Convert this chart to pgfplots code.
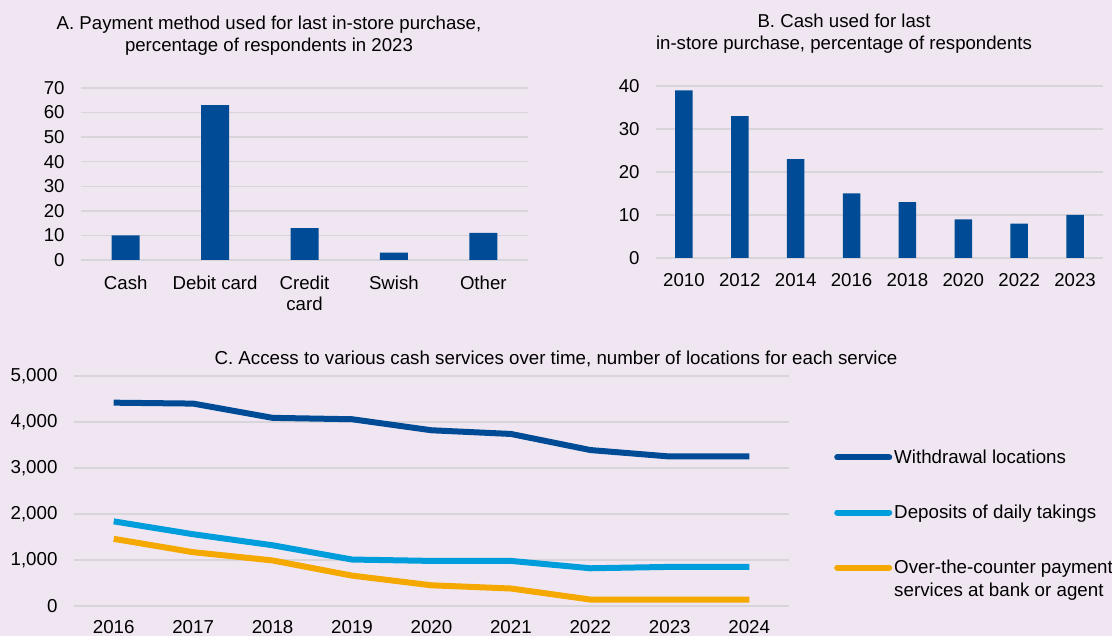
\documentclass[border=0pt]{standalone}
\usepackage{pgfplots}
\pgfplotsset{compat=1.18}
\usepackage{fontspec}
\setmainfont{Liberation Sans}
\definecolor{bg}{RGB}{240,230,242}
\definecolor{barblue}{RGB}{0,75,150}
\definecolor{lightblue}{RGB}{0,157,220}
\definecolor{gold}{RGB}{245,168,0}
\definecolor{gridgray}{RGB}{215,212,218}
\newcommand\fs{\fontsize{18.7}{22}\selectfont}
\newcommand\fc{\fontsize{18.8}{23}\selectfont}
\pgfplotsset{
 base/.style={
  scale only axis,
  axis line style={draw=none},
  tick style={draw=none},
  ymajorgrids,
  grid style={draw=gridgray, line width=1.5bp},
  tick label style={font=\fs},
  /pgf/number format/assume math mode=true,
  /pgf/number format/1000 sep={},
  yticklabel style={xshift=-13bp},
  xticklabel style={yshift=-12bp},
  scaled y ticks=false,
  clip=false,
 },
 leg/.style={legend image code/.code={\draw[##1, line cap=round] (0bp,0bp) -- (52bp,0bp);}},
 shiftleg/.style={legend image code/.code={\draw[##1, line cap=round] (0bp,11.5bp) -- (52bp,11.5bp);}},
}
\begin{document}
\begin{tikzpicture}
\fill[bg] (0,0) rectangle (1112bp,636bp);
\useasboundingbox (0,0) rectangle (1112bp,636bp);
\node[font=\fs, align=center] at (269bp,600.5bp) {A. Payment method used for last in-store purchase,\\percentage of respondents in 2023};
\node[font=\fs, align=center] at (844bp,602bp) {B. Cash used for last\\in-store purchase, percentage of respondents};
\node[font=\fc, align=center] at (556bp,277bp) {C. Access to various cash services over time, number of locations for each service};
% Panel A
\begin{axis}[base, at={(81bp,548bp)}, anchor=north west, width=447bp, height=172bp,
 ymin=0, ymax=70, ytick={0,10,...,70}, xmin=-0.5, xmax=4.5, xtick={0,...,4},
 xticklabels={Cash, Debit card, {Credit\\card}, Swish, Other},
 xticklabel style={align=center}]
\addplot[ybar, bar width=28bp, fill=barblue, draw=none] coordinates {(0,10)(1,63)(2,13)(3,3)(4,11)};
\end{axis}
% Panel B
\begin{axis}[base, at={(656bp,550bp)}, anchor=north west, width=447bp, height=172bp,
 ymin=0, ymax=40, ytick={0,10,...,40}, xmin=-0.5, xmax=7.5, xtick={0,...,7},
 xticklabels={2010,2012,2014,2016,2018,2020,2022,2023}]
\addplot[ybar, bar width=17.6bp, fill=barblue, draw=none] coordinates {(0,39)(1,33)(2,23)(3,15)(4,13)(5,9)(6,8)(7,10)};
\end{axis}
% Panel C
\begin{axis}[base, at={(74bp,260bp)}, anchor=north west, width=715bp, height=230bp,
 tick label style={font=\fc},
 ymin=0, ymax=5000, ytick={0,1000,...,5000},
 yticklabel style={/pgf/number format/1000 sep={,}},
 xticklabel style={yshift=1bp},
 xmin=2015.5, xmax=2024.5, xtick={2016,...,2024},
 legend style={at={(1.063,0.688)}, anchor=north west, draw=none, fill=none, font=\fc,
   row sep=36bp, inner sep=0pt, cells={anchor=west, align=left}},
 leg,
 every axis plot/.append style={line width=6bp, line join=round}]
\addplot[barblue] coordinates {(2016,4420)(2017,4400)(2018,4090)(2019,4060)(2020,3820)(2021,3740)(2022,3390)(2023,3250)(2024,3250)};
\addlegendentry{Withdrawal locations}
\addplot[lightblue] coordinates {(2016,1840)(2017,1560)(2018,1320)(2019,1010)(2020,980)(2021,980)(2022,820)(2023,850)(2024,850)};
\addlegendentry{Deposits of daily takings}
\addplot[gold, shiftleg] coordinates {(2016,1460)(2017,1170)(2018,990)(2019,660)(2020,450)(2021,380)(2022,140)(2023,140)(2024,140)};
\addlegendentry{Over-the-counter payment\\services at bank or agent}
\end{axis}
\end{tikzpicture}
\end{document}
